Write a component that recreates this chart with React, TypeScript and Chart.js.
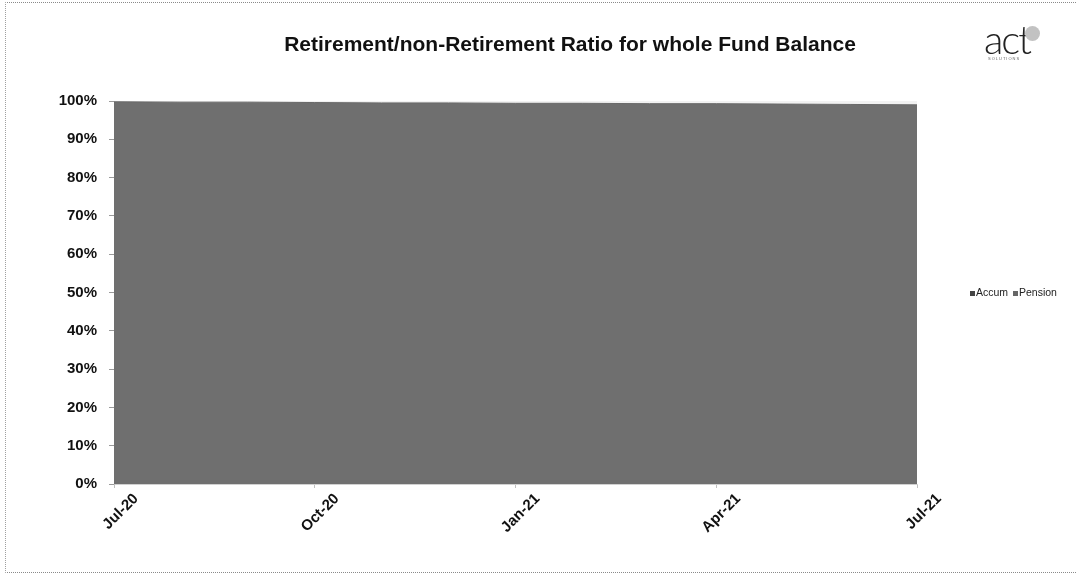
import React, { useEffect, useRef } from "react";
import { Chart, registerables } from "chart.js";

Chart.register(...registerables);

const months = ["Jul-20", "Aug-20", "Sep-20", "Oct-20", "Nov-20", "Dec-20", "Jan-21", "Feb-21", "Mar-21", "Apr-21", "May-21", "Jun-21", "Jul-21"];
const accum = [99.8, 99.7, 99.7, 99.6, 99.5, 99.5, 99.4, 99.4, 99.3, 99.3, 99.2, 99.1, 99.0];
const pension = [0.2, 0.3, 0.3, 0.4, 0.5, 0.5, 0.6, 0.6, 0.7, 0.7, 0.8, 0.9, 1.0];
const shownLabels = ["Jul-20", "Oct-20", "Jan-21", "Apr-21", "Jul-21"];

const FONT = "'Liberation Sans', Arial, sans-serif";

export default function App() {
  const ref = useRef<HTMLCanvasElement>(null);
  useEffect(() => {
    const chart = new Chart(ref.current!, {
      type: "line",
      data: {
        labels: months,
        datasets: [
          { label: "Accum", data: accum, fill: "origin", backgroundColor: "#6f6f6f", borderColor: "#6a6a6a", borderWidth: 1, pointRadius: 0, tension: 0 },
          { label: "Pension", data: pension, fill: "-1", backgroundColor: "#f2f2f2", borderColor: "#ececec", borderWidth: 0, pointRadius: 0, tension: 0 },
        ],
      },
      options: {
        responsive: false,
        animation: false,
        layout: { padding: { top: 101, right: 160, left: 0, bottom: 0 } },
        plugins: { legend: { display: false }, title: { display: false }, tooltip: { enabled: false } },
        scales: {
          x: {
            offset: false,
            afterFit: (s: any) => { s.height = 94; },
            grid: {
              display: true,
              drawOnChartArea: false,
              tickLength: 4,
              color: (ctx: any) => (shownLabels.includes(months[ctx.index]) ? "#c0c0c0" : "rgba(0,0,0,0)"),
            },
            border: { display: true, color: "#d0d0d0", dash: [1, 1] },
            ticks: {
              autoSkip: false,
              maxRotation: 45,
              minRotation: 45,
              padding: 2,
              labelOffset: 22,
              color: "#111",
              font: { family: FONT, size: 15, weight: "bold" },
              callback: function (this: any, v: any, i: number) {
                const l = months[i];
                return shownLabels.includes(l) ? l : "";
              },
            },
          },
          y: {
            stacked: true,
            min: 0,
            max: 100,
            afterFit: (s: any) => { s.width = 114; },
            grid: { display: true, drawOnChartArea: false, tickLength: 5, color: "#9a9a9a" },
            border: { display: true, color: "#c0c0c0", dash: [1, 1] },
            ticks: {
              stepSize: 10,
              padding: 12,
              color: "#111",
              font: { family: FONT, size: 15, weight: "bold" },
              callback: (v: any) => v + "%",
            },
          },
        },
      },
    });
    return () => chart.destroy();
  }, []);

  return (
    <div style={{ position: "fixed", left: 0, top: 0, width: 1077, height: 578, background: "#fff", fontFamily: FONT }}>
      <div style={{ position: "absolute", left: 5, top: 2, width: 1072, height: 569, borderTop: "1px dotted #8a8a8a", borderLeft: "1px dotted #a0a0a0", borderBottom: "1px dotted #8a8a8a" }} />
      <canvas ref={ref} width={1077} height={578} style={{ position: "absolute", left: 0, top: 0 }} />
      <div style={{ position: "absolute", left: 0, width: 1140, top: 32, textAlign: "center", fontSize: 21, fontWeight: "bold", color: "#111" }}>
        Retirement/non-Retirement Ratio for whole Fund Balance
      </div>
      <div style={{ position: "absolute", left: 984, top: 19, fontSize: 40, lineHeight: "40px", color: "#222", letterSpacing: -2, fontFamily: "Lato, 'Open Sans', sans-serif", fontWeight: 300 }}>act</div>
      <div style={{ position: "absolute", left: 1025, top: 26, width: 15, height: 15, borderRadius: "50%", background: "#c2c2c2" }} />
      <div style={{ position: "absolute", left: 988, top: 56, fontSize: 4, letterSpacing: 1, color: "#666" }}>SOLUTIONS</div>
      <div style={{ position: "absolute", left: 970, top: 286, fontSize: 10.5, color: "#222", whiteSpace: "nowrap" }}>
        <span style={{ display: "inline-block", width: 5, height: 5, background: "#444", marginRight: 1, verticalAlign: "middle" }} />Accum{" "}
        <span style={{ display: "inline-block", width: 5, height: 5, background: "#666", marginRight: 1, marginLeft: 2, verticalAlign: "middle" }} />Pension
      </div>
    </div>
  );
}
